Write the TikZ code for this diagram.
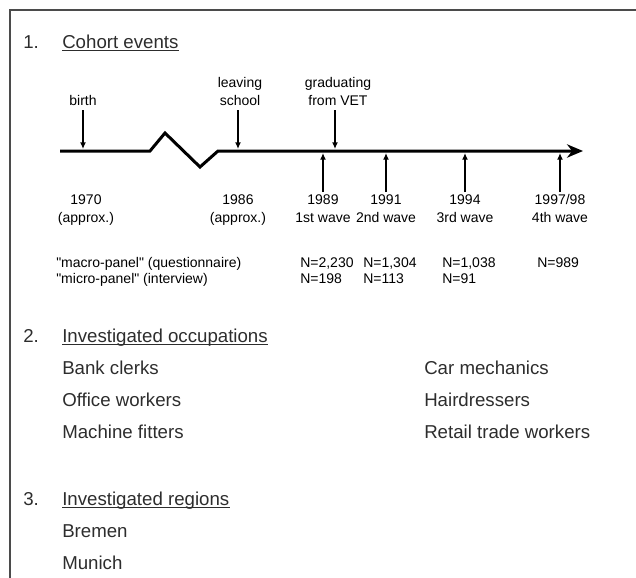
\documentclass[tikz,border=0pt]{standalone}
\usepackage{fontspec}
\setmainfont{Liberation Sans}
\usepackage{xcolor}
\usepackage{tikz}
\usetikzlibrary{arrows.meta,positioning}
\definecolor{FrameGray}{RGB}{75,75,75}
\definecolor{ListGray}{RGB}{45,45,45}

\tikzset{
  heading/.style={anchor=base west,inner sep=0pt,text=ListGray,font=\fontsize{14}{16}\selectfont},
  uline/.style={ListGray,line width=0.75pt},
  tlabel/.style={align=center,inner sep=1pt,font=\fontsize{10.5}{13.5}\selectfont},
  nval/.style={anchor=base west,inner sep=0pt,font=\fontsize{10.5}{12}\selectfont},
  event/.style={-{Latex[length=5pt,width=4.5pt]},line width=1.1pt},
}

\begin{document}
\begin{tikzpicture}[x=0.75pt,y=-0.75pt,>=Latex]
  \useasboundingbox (0,0) rectangle (636,578);
  \draw[FrameGray,line width=1.5pt] (636,10)--(10,10)--(10,578);

  % 1. cohort events
  \node[heading] (n1) at (23,48) {1.};
  \node[heading] (h1) at (62,48) {Cohort events};
  \draw[uline] ([yshift=-2pt]h1.base west)--([yshift=-2pt]h1.base east);

  \draw[line width=2.25pt,-{Stealth[length=12pt,width=10pt]}]
    (60,151)--(150,151)--(165,133)--(200,167)--(218,151)--(583,151);

  \coordinate (tbirth) at (83,149);
  \coordinate (tschool) at (238,149);
  \coordinate (tvet) at (335,149);
  \coordinate (t89) at (323,153);
  \coordinate (t91) at (386,153);
  \coordinate (t94) at (465,153);
  \coordinate (t97) at (560,153);

  \node[tlabel,anchor=south,outer sep=2pt] (birth) at (83,110) {birth};
  \node[tlabel,anchor=south,outer sep=2pt] (school) at (240,110) {leaving\\school};
  \node[tlabel,anchor=south,outer sep=2pt] (vet) at (338,110) {graduating\\from VET};
  \draw[event] (birth.south)--(tbirth);
  \draw[event] (school.south -| tschool)--(tschool);
  \draw[event] (vet.south -| tvet)--(tvet);

  \node[tlabel,anchor=north] (y70) at (86,193) {1970\\(approx.)};
  \node[tlabel,anchor=north] (y86) at (238,193) {1986\\(approx.)};
  \node[tlabel,anchor=north,outer sep=1pt] (y89) at (323,192) {1989\\1st wave};
  \node[tlabel,anchor=north,outer sep=1pt] (y91) at (386,192) {1991\\2nd wave};
  \node[tlabel,anchor=north,outer sep=1pt] (y94) at (465,192) {1994\\3rd wave};
  \node[tlabel,anchor=north,outer sep=1pt] (y97) at (560,192) {1997/98\\4th wave};
  \draw[event] (y89.north)--(t89);
  \draw[event] (y91.north)--(t91);
  \draw[event] (y94.north)--(t94);
  \draw[event] (y97.north)--(t97);

  \node[nval] (macro) at (56,267) {\textquotedbl macro-panel\textquotedbl{} (questionnaire)};
  \node[nval] (micro) at (56,283) {\textquotedbl micro-panel\textquotedbl{} (interview)};
  \node[nval] (ma89) at (300,267) {N=2,230};
  \node[nval] (ma91) at (363,267) {N=1,304};
  \node[nval] (ma94) at (442,267) {N=1,038};
  \node[nval] (ma97) at (537,267) {N=989};
  \node[nval] (mi89) at (300,283) {N=198};
  \node[nval] (mi91) at (363,283) {N=113};
  \node[nval] (mi94) at (442,283) {N=91};

  % 2. occupations
  \node[heading] (n2) at (23,342) {2.};
  \node[heading] (h2) at (62,342) {Investigated occupations};
  \draw[uline] ([yshift=-2pt]h2.base west)--([yshift=-2pt]h2.base east);
  \node[heading] (bank) at (62,374) {Bank clerks};
  \node[heading] (office) at (62,406) {Office workers};
  \node[heading] (fitter) at (62,438) {Machine fitters};
  \node[heading] (car) at (424,374) {Car mechanics};
  \node[heading] (hair) at (424,406) {Hairdressers};
  \node[heading] (retail) at (424,438) {Retail trade workers};

  % 3. regions
  \node[heading] (n3) at (23,505) {3.};
  \node[heading] (h3) at (62,505) {Investigated regions};
  \draw[uline] ([yshift=-2pt]h3.base west)--([yshift=-2pt]h3.base east);
  \node[heading] (bremen) at (62,537) {Bremen};
  \node[heading] (munich) at (62,569) {Munich};
\end{tikzpicture}
\end{document}
